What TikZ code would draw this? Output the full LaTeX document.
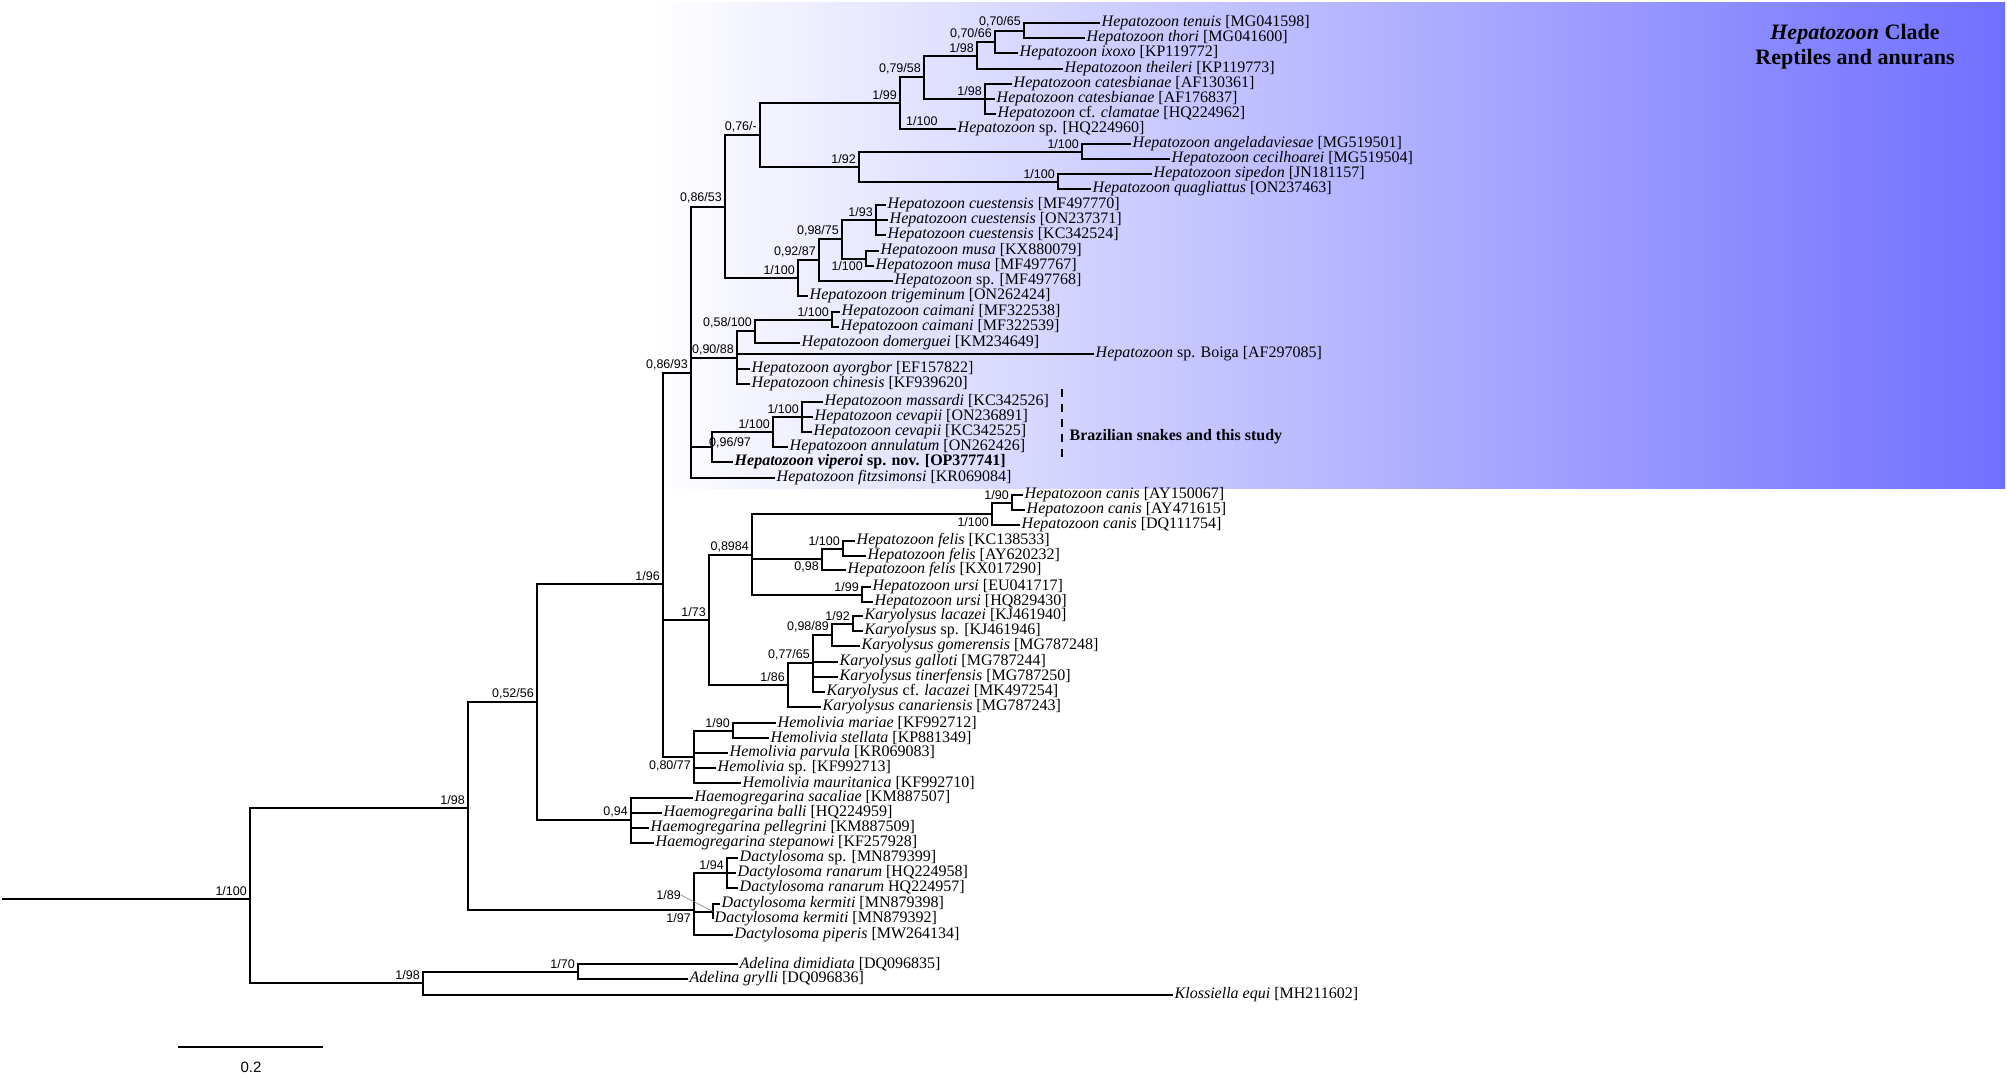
\documentclass[tikz,border=0pt]{standalone}
\usepackage{fontspec}
\setmainfont{Liberation Serif}
\setsansfont{Liberation Sans}
\usepackage{tikz}

\definecolor{cladeblue}{RGB}{112,112,255}
\newcommand{\leaffont}{\fontsize{16}{18}\selectfont}
\newcommand{\suppfont}{\sffamily\fontsize{12.5}{14}\selectfont}

\begin{document}
\begin{tikzpicture}[x=1pt, y=-1pt]

    \tikzstyle{leaf}=[anchor=west, inner xsep=1.5pt, inner ysep=0pt, font=\leaffont];
    \tikzstyle{supp}=[anchor=south east, inner sep=0pt, xshift=-3pt, yshift=3pt, font=\suppfont];
    \tikzstyle{suppbelow}=[anchor=north east, inner sep=0pt, xshift=-3pt, yshift=-3pt, font=\suppfont];
    \tikzstyle{branch}=[line width=2pt];

    \useasboundingbox (0,0) rectangle (2007,1076);

    % clade box
    \shade[left color=white, right color=cladeblue] (650,2) rectangle (2005,488);
    \node[font=\fontsize{22}{25}\selectfont\bfseries, align=center] (title) at (1855,47) {\textit{Hepatozoon} Clade\\Reptiles and anurans};

    % leaves
    \node[leaf] (L1) at (1100,23) {\textit{Hepatozoon tenuis} [MG041598]};
    \node[leaf] (L2) at (1085,38) {\textit{Hepatozoon thori} [MG041600]};
    \node[leaf] (L3) at (1018,53) {\textit{Hepatozoon ixoxo} [KP119772]};
    \node[leaf] (L4) at (1063,69) {\textit{Hepatozoon theileri} [KP119773]};
    \node[leaf] (L5) at (1012,84) {\textit{Hepatozoon catesbianae} [AF130361]};
    \node[leaf] (L6) at (995,99) {\textit{Hepatozoon catesbianae} [AF176837]};
    \node[leaf] (L7) at (996,114) {\textit{Hepatozoon} cf. \textit{clamatae} [HQ224962]};
    \node[leaf] (L8) at (956,129) {\textit{Hepatozoon} sp. [HQ224960]};
    \node[leaf] (L9) at (1131,144) {\textit{Hepatozoon angeladaviesae} [MG519501]};
    \node[leaf] (L10) at (1170,159) {\textit{Hepatozoon cecilhoarei} [MG519504]};
    \node[leaf] (L11) at (1152,174) {\textit{Hepatozoon sipedon} [JN181157]};
    \node[leaf] (L12) at (1091,189) {\textit{Hepatozoon quagliattus} [ON237463]};
    \node[leaf] (L13) at (886,205) {\textit{Hepatozoon cuestensis} [MF497770]};
    \node[leaf] (L14) at (888,220) {\textit{Hepatozoon cuestensis} [ON237371]};
    \node[leaf] (L15) at (886,235) {\textit{Hepatozoon cuestensis} [KC342524]};
    \node[leaf] (L16) at (879,251) {\textit{Hepatozoon musa} [KX880079]};
    \node[leaf] (L17) at (874,266) {\textit{Hepatozoon musa} [MF497767]};
    \node[leaf] (L18) at (893,281) {\textit{Hepatozoon} sp. [MF497768]};
    \node[leaf] (L19) at (808,296) {\textit{Hepatozoon trigeminum} [ON262424]};
    \node[leaf] (L20) at (840,312) {\textit{Hepatozoon caimani} [MF322538]};
    \node[leaf] (L21) at (839,327) {\textit{Hepatozoon caimani} [MF322539]};
    \node[leaf] (L22) at (800,343) {\textit{Hepatozoon domerguei} [KM234649]};
    \node[leaf] (L23) at (1094,354) {\textit{Hepatozoon} sp. Boiga [AF297085]};
    \node[leaf] (L24) at (750,369) {\textit{Hepatozoon ayorgbor} [EF157822]};
    \node[leaf] (L25) at (750,384) {\textit{Hepatozoon chinesis} [KF939620]};
    \node[leaf] (L26) at (823,402) {\textit{Hepatozoon massardi} [KC342526]};
    \node[leaf] (L27) at (813,417) {\textit{Hepatozoon cevapii} [ON236891]};
    \node[leaf] (L28) at (812,432) {\textit{Hepatozoon cevapii} [KC342525]};
    \node[leaf] (L29) at (788,447) {\textit{Hepatozoon annulatum} [ON262426]};
    \node[leaf] (L30) at (733,462) {\textbf{\textit{Hepatozoon viperoi} sp. nov. [OP377741]}};
    \node[leaf] (L31) at (775,478) {\textit{Hepatozoon fitzsimonsi} [KR069084]};
    \node[leaf] (L32) at (1023,495) {\textit{Hepatozoon canis} [AY150067]};
    \node[leaf] (L33) at (1025,510) {\textit{Hepatozoon canis} [AY471615]};
    \node[leaf] (L34) at (1020,525) {\textit{Hepatozoon canis} [DQ111754]};
    \node[leaf] (L35) at (855,541) {\textit{Hepatozoon felis} [KC138533]};
    \node[leaf] (L36) at (866,556) {\textit{Hepatozoon felis} [AY620232]};
    \node[leaf] (L37) at (846,570) {\textit{Hepatozoon felis} [KX017290]};
    \node[leaf] (L38) at (871,587) {\textit{Hepatozoon ursi} [EU041717]};
    \node[leaf] (L39) at (873,602) {\textit{Hepatozoon ursi} [HQ829430]};
    \node[leaf] (L40) at (863,616) {\textit{Karyolysus lacazei} [KJ461940]};
    \node[leaf] (L41) at (863,631) {\textit{Karyolysus} sp. [KJ461946]};
    \node[leaf] (L42) at (860,646) {\textit{Karyolysus gomerensis} [MG787248]};
    \node[leaf] (L43) at (838,662) {\textit{Karyolysus galloti} [MG787244]};
    \node[leaf] (L44) at (838,677) {\textit{Karyolysus tinerfensis} [MG787250]};
    \node[leaf] (L45) at (825,692) {\textit{Karyolysus} cf. \textit{lacazei} [MK497254]};
    \node[leaf] (L46) at (821,707) {\textit{Karyolysus canariensis} [MG787243]};
    \node[leaf] (L47) at (776,723) {\textit{Hemolivia mariae} [KF992712]};
    \node[leaf] (L48) at (769,738) {\textit{Hemolivia stellata} [KP881349]};
    \node[leaf] (L49) at (728,753) {\textit{Hemolivia parvula} [KR069083]};
    \node[leaf] (L50) at (716,768) {\textit{Hemolivia} sp. [KF992713]};
    \node[leaf] (L51) at (741,783) {\textit{Hemolivia mauritanica} [KF992710]};
    \node[leaf] (L52) at (693,798) {\textit{Haemogregarina sacaliae} [KM887507]};
    \node[leaf] (L53) at (662,813) {\textit{Haemogregarina balli} [HQ224959]};
    \node[leaf] (L54) at (649,828) {\textit{Haemogregarina pellegrini} [KM887509]};
    \node[leaf] (L55) at (654,843) {\textit{Haemogregarina stepanowi} [KF257928]};
    \node[leaf] (L56) at (738,858) {\textit{Dactylosoma} sp. [MN879399]};
    \node[leaf] (L57) at (736,873) {\textit{Dactylosoma ranarum} [HQ224958]};
    \node[leaf] (L58) at (738,888) {\textit{Dactylosoma ranarum} HQ224957]};
    \node[leaf] (L59) at (720,904) {\textit{Dactylosoma kermiti} [MN879398]};
    \node[leaf] (L60) at (713,919) {\textit{Dactylosoma kermiti} [MN879392]};
    \node[leaf] (L61) at (733,935) {\textit{Dactylosoma piperis} [MW264134]};
    \node[leaf] (L62) at (738,964) {\textit{Adelina dimidiata} [DQ096835]};
    \node[leaf] (L63) at (688,979) {\textit{Adelina grylli} [DQ096836]};
    \node[leaf] (L64) at (1173,995) {\textit{Klossiella equi} [MH211602]};

    % inner nodes, Hepatozoon clade
    \coordinate (a1) at (1024,30.5);
    \coordinate (a2) at (995,42);
    \coordinate (a3) at (977,55.5);
    \coordinate (a4) at (985,99);
    \coordinate (a5) at (924,77);
    \coordinate (a6) at (900,103);
    \coordinate (a7) at (1082,151.5);
    \coordinate (a8) at (1058,181.5);
    \coordinate (a9) at (859,166.5);
    \coordinate (a10) at (760,135);
    \coordinate (a11) at (876,220);
    \coordinate (a12) at (866,258.5);
    \coordinate (a13) at (842,239);
    \coordinate (a14) at (819,260);
    \coordinate (a15) at (798,278);
    \coordinate (a16) at (725,206.5);
    \coordinate (a17) at (832,319.5);
    \coordinate (a18) at (755,331);
    \coordinate (a19) at (737,358);
    \coordinate (a20) at (802,417);
    \coordinate (a21) at (773,432);
    \coordinate (a22) at (712,447);
    \coordinate (a23) at (691,373);

    % inner nodes, rest of the tree
    \coordinate (b1) at (1012,502.5);
    \coordinate (b2) at (992,514);
    \coordinate (b3) at (843,548.5);
    \coordinate (b4) at (822,559);
    \coordinate (b5) at (862,594.5);
    \coordinate (b6) at (752,555);
    \coordinate (b7) at (853,623.5);
    \coordinate (b8) at (832,635);
    \coordinate (b9) at (813,663);
    \coordinate (b10) at (788,685);
    \coordinate (b11) at (709,620);
    \coordinate (b12) at (733,730.5);
    \coordinate (b13) at (694,757);
    \coordinate (b14) at (663,584);
    \coordinate (b15) at (631,820);
    \coordinate (b16) at (537,702);
    \coordinate (b17) at (727,873);
    \coordinate (b18) at (713,911.5);
    \coordinate (b19) at (694,910);
    \coordinate (b20) at (468,808);
    \coordinate (b21) at (578,971.5);
    \coordinate (b22) at (423,983);
    \coordinate (root) at (250,899);
    \coordinate (r0) at (2,899);

    % branches
    \draw[branch] (a1) |- (L1.west);
    \draw[branch] (a1) |- (L2.west);
    \draw[branch] (a2) |- (a1);
    \draw[branch] (a2) |- (L3.west);
    \draw[branch] (a3) |- (a2);
    \draw[branch] (a3) |- (L4.west);
    \draw[branch] (a4) |- (L5.west);
    \draw[branch] (a4) |- (L6.west);
    \draw[branch] (a4) |- (L7.west);
    \draw[branch] (a5) |- (a3);
    \draw[branch] (a5) |- (a4);
    \draw[branch] (a6) |- (a5);
    \draw[branch] (a6) |- (L8.west);
    \draw[branch] (a7) |- (L9.west);
    \draw[branch] (a7) |- (L10.west);
    \draw[branch] (a8) |- (L11.west);
    \draw[branch] (a8) |- (L12.west);
    \draw[branch] (a9) |- (a7);
    \draw[branch] (a9) |- (a8);
    \draw[branch] (a10) |- (a6);
    \draw[branch] (a10) |- (a9);
    \draw[branch] (a11) |- (L13.west);
    \draw[branch] (a11) |- (L14.west);
    \draw[branch] (a11) |- (L15.west);
    \draw[branch] (a12) |- (L16.west);
    \draw[branch] (a12) |- (L17.west);
    \draw[branch] (a13) |- (a11);
    \draw[branch] (a13) |- (a12);
    \draw[branch] (a14) |- (a13);
    \draw[branch] (a14) |- (L18.west);
    \draw[branch] (a15) |- (a14);
    \draw[branch] (a15) |- (L19.west);
    \draw[branch] (a16) |- (a10);
    \draw[branch] (a16) |- (a15);
    \draw[branch] (a17) |- (L20.west);
    \draw[branch] (a17) |- (L21.west);
    \draw[branch] (a18) |- (a17);
    \draw[branch] (a18) |- (L22.west);
    \draw[branch] (a19) |- (a18);
    \draw[branch] (a19) |- (L23.west);
    \draw[branch] (a19) |- (L24.west);
    \draw[branch] (a19) |- (L25.west);
    \draw[branch] (a20) |- (L26.west);
    \draw[branch] (a20) |- (L27.west);
    \draw[branch] (a20) |- (L28.west);
    \draw[branch] (a21) |- (a20);
    \draw[branch] (a21) |- (L29.west);
    \draw[branch] (a22) |- (a21);
    \draw[branch] (a22) |- (L30.west);
    \draw[branch] (a23) |- (a16);
    \draw[branch] (a23) |- (a19);
    \draw[branch] (a23) |- (a22);
    \draw[branch] (a23) |- (L31.west);

    \draw[branch] (b1) |- (L32.west);
    \draw[branch] (b1) |- (L33.west);
    \draw[branch] (b2) |- (b1);
    \draw[branch] (b2) |- (L34.west);
    \draw[branch] (b3) |- (L35.west);
    \draw[branch] (b3) |- (L36.west);
    \draw[branch] (b4) |- (b3);
    \draw[branch] (b4) |- (L37.west);
    \draw[branch] (b5) |- (L38.west);
    \draw[branch] (b5) |- (L39.west);
    \draw[branch] (b6) |- (b2);
    \draw[branch] (b6) |- (b4);
    \draw[branch] (b6) |- (b5);
    \draw[branch] (b7) |- (L40.west);
    \draw[branch] (b7) |- (L41.west);
    \draw[branch] (b8) |- (b7);
    \draw[branch] (b8) |- (L42.west);
    \draw[branch] (b9) |- (b8);
    \draw[branch] (b9) |- (L43.west);
    \draw[branch] (b9) |- (L44.west);
    \draw[branch] (b9) |- (L45.west);
    \draw[branch] (b10) |- (b9);
    \draw[branch] (b10) |- (L46.west);
    \draw[branch] (b11) |- (b6);
    \draw[branch] (b11) |- (b10);
    \draw[branch] (b12) |- (L47.west);
    \draw[branch] (b12) |- (L48.west);
    \draw[branch] (b13) |- (b12);
    \draw[branch] (b13) |- (L49.west);
    \draw[branch] (b13) |- (L50.west);
    \draw[branch] (b13) |- (L51.west);
    \draw[branch] (b14) |- (a23);
    \draw[branch] (b14) |- (b11);
    \draw[branch] (b14) |- (b13);
    \draw[branch] (b15) |- (L52.west);
    \draw[branch] (b15) |- (L53.west);
    \draw[branch] (b15) |- (L54.west);
    \draw[branch] (b15) |- (L55.west);
    \draw[branch] (b16) |- (b14);
    \draw[branch] (b16) |- (b15);
    \draw[branch] (b17) |- (L56.west);
    \draw[branch] (b17) |- (L57.west);
    \draw[branch] (b17) |- (L58.west);
    \draw[branch] (b18) |- (L59.west);
    \draw[branch] (b18) |- (L60.west);
    \draw[branch] (b19) |- (b17);
    \draw[branch] (b19) |- (b18);
    \draw[branch] (b19) |- (L61.west);
    \draw[branch] (b20) |- (b16);
    \draw[branch] (b20) |- (b19);
    \draw[branch] (b21) |- (L62.west);
    \draw[branch] (b21) |- (L63.west);
    \draw[branch] (b22) |- (b21);
    \draw[branch] (b22) |- (L64.west);
    \draw[branch] (root) |- (b20);
    \draw[branch] (root) |- (b22);
    \draw[branch] (r0) -- (root);

    % support values
    \node[supp] (s1) at (a1) {0,70/65};
    \node[supp] (s2) at (a2) {0,70/66};
    \node[supp] (s3) at (a3) {1/98};
    \node[supp] (s4) at (a4) {1/98};
    \node[supp] (s5) at (a5) {0,79/58};
    \node[supp] (s6) at (a6) {1/99};
    \node[supp, anchor=south west, xshift=9pt] (s6b) at (a6 |- L8.west) {1/100};
    \node[supp] (s7) at (a7) {1/100};
    \node[supp] (s8) at (a8) {1/100};
    \node[supp] (s9) at (a9) {1/92};
    \node[supp] (s10) at (a10) {0,76/-};
    \node[supp] (s11) at (a11) {1/93};
    \node[suppbelow] (s12) at (a12) {1/100};
    \node[supp] (s13) at (a13) {0,98/75};
    \node[supp] (s14) at (a14) {0,92/87};
    \node[supp] (s15) at (a15) {1/100};
    \node[supp] (s16) at (a16) {0,86/53};
    \node[supp] (s17) at (a17) {1/100};
    \node[supp] (s18) at (a18) {0,58/100};
    \node[supp] (s19) at (a19) {0,90/88};
    \node[supp] (s20) at (a20) {1/100};
    \node[supp] (s21) at (a21) {1/100};
    \node[supp, anchor=west, xshift=0pt, yshift=1pt] (s22) at (a22) {0,96/97};
    \node[supp] (s23) at (a23) {0,86/93};

    \node[supp] (t1) at (b1) {1/90};
    \node[suppbelow] (t2) at (b2) {1/100};
    \node[supp] (t3) at (b3) {1/100};
    \node[suppbelow] (t4) at (b4) {0,98};
    \node[supp] (t5) at (b5) {1/99};
    \node[supp] (t6) at (b6) {0,8984};
    \node[supp] (t7) at (b7) {1/92};
    \node[supp] (t8) at (b8) {0,98/89};
    \node[supp] (t9) at (b9) {0,77/65};
    \node[supp] (t10) at (b10) {1/86};
    \node[supp] (t11) at (b11) {1/73};
    \node[supp] (t12) at (b12) {1/90};
    \node[suppbelow] (t13) at (b13) {0,80/77};
    \node[supp] (t14) at (b14) {1/96};
    \node[supp] (t15) at (b15) {0,94};
    \node[supp] (t16) at (b16) {0,52/56};
    \node[supp] (t17) at (b17) {1/94};
    \node[supp, anchor=east, xshift=0pt, yshift=0pt] (t18) at (684,898) {1/89};
    \draw[line width=0.6pt, gray] (t18.east) -- (b18);
    \node[suppbelow] (t19) at (b19) {1/97};
    \node[supp] (t20) at (b20) {1/98};
    \node[supp] (t21) at (b21) {1/70};
    \node[supp] (t22) at (b22) {1/98};
    \node[supp] (t23) at (root) {1/100};

    % Brazilian snakes bracket
    \coordinate (bz1) at (1062,389);
    \coordinate (bz2) at (1062,460);
    \draw[line width=2pt, dash pattern=on 8pt off 7pt] (bz1) -- (bz2);
    \node[leaf, font=\leaffont\bfseries] (bz) at (1068,437) {Brazilian snakes and this study};

    % scale bar
    \coordinate (sb1) at (178,1047);
    \coordinate (sb2) at (323,1047);
    \draw[branch] (sb1) -- (sb2);
    \node[font=\sffamily\fontsize{15}{17}\selectfont] (sbl) at (251,1067) {0.2};

\end{tikzpicture}
\end{document}
